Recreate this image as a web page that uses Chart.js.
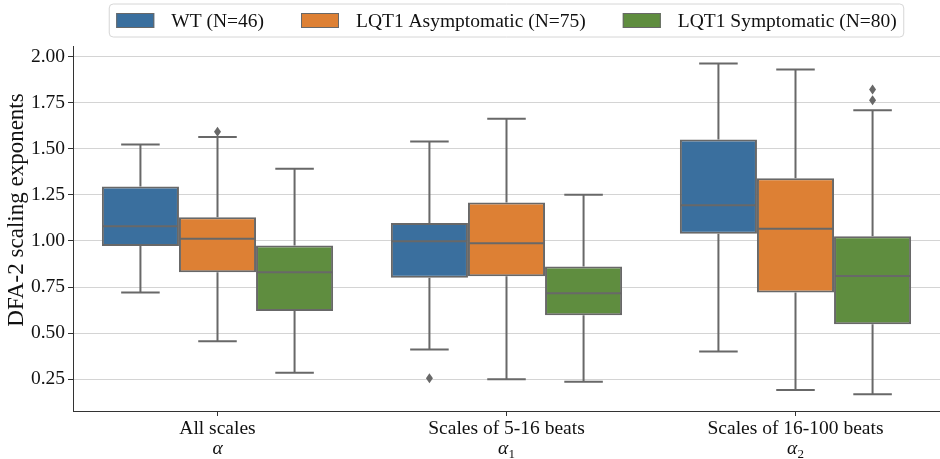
<!DOCTYPE html>
<html>
<head>
<meta charset="utf-8">
<script src="https://cdn.jsdelivr.net/npm/chart.js@4/dist/chart.umd.min.js"></script>
<style>
  html, body { margin: 0; padding: 0; background: #ffffff; }
  #wrap { width: 940px; height: 459px; }
</style>
</head>
<body>
<div id="wrap"><canvas id="c" width="940" height="459"></canvas></div>
<script>
// ---- data ----
const categories = ['All scales', 'Scales of 5-16 beats', 'Scales of 16-100 beats'];
const subSymbols = ['α', 'α', 'α'];
const subIndices = ['', '1', '2'];
const seriesNames = ['WT (N=46)', 'LQT1 Asymptomatic (N=75)', 'LQT1 Symptomatic (N=80)'];
const yTicks = [0.25, 0.50, 0.75, 1.00, 1.25, 1.50, 1.75, 2.00];
const yTitle = 'DFA-2 scaling exponents';

const wtLow    = [0.720, 0.411, 0.400];
const wtQ1     = [0.972, 0.801, 1.039];
const wtMed    = [1.080, 0.999, 1.194];
const wtQ3     = [1.295, 1.097, 1.550];
const wtHigh   = [1.523, 1.539, 1.962];
const wtOut    = [[], [0.255], []];

const asyLow   = [0.456, 0.250, 0.192];
const asyQ1    = [0.830, 0.808, 0.720];
const asyMed   = [1.012, 0.988, 1.066];
const asyQ3    = [1.129, 1.209, 1.340];
const asyHigh  = [1.563, 1.662, 1.929];
const asyOut   = [[1.592], [], []];

const symLow   = [0.286, 0.236, 0.169];
const symQ1    = [0.620, 0.597, 0.548];
const symMed   = [0.830, 0.716, 0.810];
const symQ3    = [0.976, 0.862, 1.026];
const symHigh  = [1.391, 1.250, 1.709];
const symOut   = [[], [], [1.763, 1.821]];

// ---- styling ----
const colors = ['#3a6f9e', '#dd8034', '#5f8d3f'];
const lineGray = '#686868';
const FONT = '"Liberation Serif", "Times New Roman", serif';
const FS = 19.5;

const stats = [
  {low: wtLow, q1: wtQ1, med: wtMed, q3: wtQ3, high: wtHigh, out: wtOut},
  {low: asyLow, q1: asyQ1, med: asyMed, q3: asyQ3, high: asyHigh, out: asyOut},
  {low: symLow, q1: symQ1, med: symMed, q3: symQ3, high: symHigh, out: symOut}
];

const datasets = stats.map((s, i) => ({
  label: seriesNames[i],
  data: s.q1.map((v, j) => [v, s.q3[j]]),
  backgroundColor: colors[i],
  borderColor: lineGray,
  borderWidth: 2,
  borderSkipped: false,
  barPercentage: 1.0,
  categoryPercentage: 0.8
}));

const boxPlugin = {
  id: 'boxparts',
  beforeDatasetsDraw(chart) {
    const ctx = chart.ctx, y = chart.scales.y;
    ctx.save();
    ctx.strokeStyle = lineGray;
    ctx.lineWidth = 2;
    stats.forEach((s, i) => {
      const meta = chart.getDatasetMeta(i);
      meta.data.forEach((el, j) => {
        const x = el.x, w = el.width;
        ctx.beginPath();
        ctx.moveTo(x, y.getPixelForValue(s.q3[j]));
        ctx.lineTo(x, y.getPixelForValue(s.high[j]));
        ctx.moveTo(x, y.getPixelForValue(s.q1[j]));
        ctx.lineTo(x, y.getPixelForValue(s.low[j]));
        ctx.moveTo(x - w / 4, y.getPixelForValue(s.high[j]));
        ctx.lineTo(x + w / 4, y.getPixelForValue(s.high[j]));
        ctx.moveTo(x - w / 4, y.getPixelForValue(s.low[j]));
        ctx.lineTo(x + w / 4, y.getPixelForValue(s.low[j]));
        ctx.stroke();
      });
    });
    ctx.restore();
  },
  afterDatasetsDraw(chart) {
    const ctx = chart.ctx, y = chart.scales.y;
    ctx.save();
    ctx.strokeStyle = lineGray;
    ctx.fillStyle = lineGray;
    ctx.lineWidth = 2;
    stats.forEach((s, i) => {
      const meta = chart.getDatasetMeta(i);
      meta.data.forEach((el, j) => {
        const x = el.x, w = el.width;
        const ym = y.getPixelForValue(s.med[j]);
        ctx.beginPath();
        ctx.moveTo(x - w / 2 + 1, ym);
        ctx.lineTo(x + w / 2 - 1, ym);
        ctx.stroke();
        s.out[j].forEach(v => {
          const yo = y.getPixelForValue(v);
          ctx.beginPath();
          ctx.moveTo(x, yo - 5);
          ctx.lineTo(x + 3.5, yo);
          ctx.lineTo(x, yo + 5);
          ctx.lineTo(x - 3.5, yo);
          ctx.closePath();
          ctx.fill();
        });
      });
    });
    ctx.restore();
  },
  afterDraw(chart) {
    const ctx = chart.ctx;
    const area = chart.chartArea;
    const xs = chart.scales.x;
    ctx.save();

    // italic alpha sub-labels under the category names
    categories.forEach((c, i) => {
      const px = xs.getPixelForValue(i);
      ctx.font = 'italic ' + FS + 'px ' + FONT;
      const wA = ctx.measureText(subSymbols[i]).width;
      ctx.font = '13px ' + FONT;
      const wI = subIndices[i] ? ctx.measureText(subIndices[i]).width + 0.5 : 0;
      const start = px - (wA + wI) / 2;
      ctx.fillStyle = '#111';
      ctx.textAlign = 'left';
      ctx.textBaseline = 'alphabetic';
      ctx.font = 'italic ' + FS + 'px ' + FONT;
      ctx.fillText(subSymbols[i], start, 454);
      if (subIndices[i]) {
        ctx.font = '13px ' + FONT;
        ctx.fillText(subIndices[i], start + wA + 0.5, 458);
      }
    });

    // y-axis title
    ctx.save();
    ctx.translate(17, 210);
    ctx.rotate(-Math.PI / 2);
    ctx.font = '23px ' + FONT;
    ctx.fillStyle = '#111';
    ctx.textAlign = 'center';
    ctx.textBaseline = 'middle';
    ctx.fillText(yTitle, 0, 0);
    ctx.restore();

    // legend box (drawn from dataset labels/colours)
    ctx.font = FS + 'px ' + FONT;
    const patchW = 38, patchH = 15, gapText = 17, gapItem = 37, padL = 7, padR = 7;
    const widths = chart.data.datasets.map(d => ctx.measureText(d.label).width);
    let total = padL + padR;
    widths.forEach((tw, k) => { total += patchW + gapText + tw + (k < widths.length - 1 ? gapItem : 0); });
    const cx = (area.left + area.right) / 2;
    const left = cx - total / 2, top = 4, h = 33;
    ctx.beginPath();
    ctx.roundRect(left, top, total, h, 4);
    ctx.fillStyle = 'rgba(255,255,255,0.9)';
    ctx.fill();
    ctx.strokeStyle = '#d6d6d6';
    ctx.lineWidth = 1;
    ctx.stroke();
    let x = left + padL;
    const midY = top + h / 2;
    chart.data.datasets.forEach((d, k) => {
      ctx.fillStyle = d.backgroundColor;
      ctx.fillRect(x, midY - patchH / 2, patchW, patchH);
      ctx.strokeStyle = lineGray;
      ctx.lineWidth = 1;
      ctx.strokeRect(x + 0.5, midY - patchH / 2 + 0.5, patchW - 1, patchH - 1);
      x += patchW + gapText;
      ctx.fillStyle = '#111';
      ctx.textBaseline = 'middle';
      ctx.textAlign = 'left';
      ctx.fillText(d.label, x, midY + 1);
      x += widths[k] + gapItem;
    });
    ctx.restore();
  }
};

new Chart(document.getElementById('c'), {
  type: 'bar',
  data: {
    labels: categories,
    datasets: datasets
  },
  plugins: [boxPlugin],
  options: {
    responsive: false,
    devicePixelRatio: 1,
    animation: false,
    layout: { padding: { top: 46, left: 0, right: 0, bottom: 0 } },
    plugins: {
      legend: { display: false },
      tooltip: { enabled: false }
    },
    scales: {
      x: {
        offset: true,
        afterFit(scale) { scale.height = 48; },
        grid: { display: true, drawOnChartArea: false, drawTicks: true, tickLength: 5, offset: false, tickColor: '#333', tickWidth: 1 },
        border: { display: true, color: '#333', width: 1 },
        ticks: { color: '#111', padding: 3, font: { family: FONT, size: FS, lineHeight: 1.0 }, maxRotation: 0, autoSkip: false }
      },
      y: {
        min: 0.078,
        max: 2.057,
        afterFit(scale) { scale.width = 73; },
        afterBuildTicks(scale) { scale.ticks = yTicks.map(v => ({ value: v })); },
        grid: { color: '#d4d4d4', lineWidth: 1, drawTicks: true, tickLength: 5, tickColor: '#333' },
        border: { display: true, color: '#333', width: 1 },
        ticks: {
          color: '#111', padding: 3,
          font: { family: FONT, size: FS },
          callback: v => Number(v).toFixed(2)
        },
        title: { display: false }
      }
    }
  }
});
</script>
</body>
</html>
